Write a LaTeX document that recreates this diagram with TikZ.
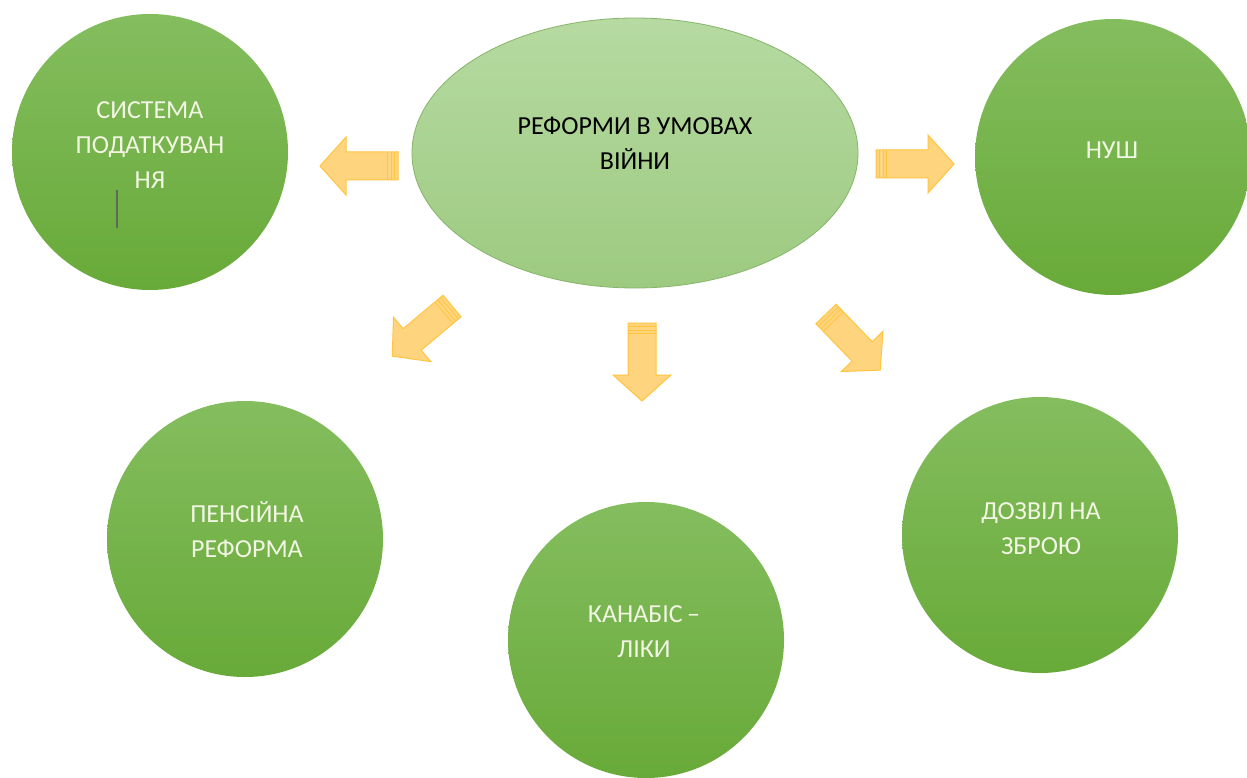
\documentclass[tikz,border=0pt]{standalone}
\usepackage{fontspec}
\setmainfont{Carlito}
\usetikzlibrary{shapes.geometric}
\definecolor{gtop}{HTML}{84BD5E}
\definecolor{gbot}{HTML}{68AA39}
\definecolor{etop}{HTML}{B6DAA2}
\definecolor{ebot}{HTML}{9DCA80}
\definecolor{eline}{HTML}{86B56A}
\definecolor{afill}{HTML}{FFD47E}
\definecolor{aline}{HTML}{FFC53F}
\definecolor{ctext}{HTML}{F2F5E4}
\definecolor{cursor}{HTML}{5E6A58}
\tikzset{
  gcirc/.style={circle, minimum size=276pt, inner sep=0pt, top color=gtop, bottom color=gbot, draw=none},
  ctxt/.style={align=center, text=ctext, font=\fontsize{26}{35}\selectfont},
  etxt/.style={align=center, text=black, font=\fontsize{26}{35}\selectfont},
  arrowbody/.style={fill=afill, draw=aline, line width=1pt, line join=miter},
  stripe/.style={draw=aline, line width=0.8pt},
  barrow/.pic={
    \path[arrowbody] (0,-14) -- (52,-14) -- (52,-29) -- (78,0) -- (52,29) -- (52,14) -- (0,14) -- cycle;
    \draw[stripe] (3.5,-14) -- (3.5,14);
    \draw[stripe] (7,-14) -- (7,14);
    \draw[stripe] (10.5,-14) -- (10.5,14);
  }
}
\begin{document}
\begin{tikzpicture}[x=1pt,y=-1pt]
\useasboundingbox[fill=white] (0,0) rectangle (1247,778);
% circles
\node[gcirc] (sys) at (150,152) {};
\node[gcirc] (nush) at (1113,157) {};
\node[gcirc] (pens) at (245,539) {};
\node[gcirc] (kan) at (646,640) {};
\node[gcirc] (zbr) at (1040,535) {};
% central ellipse
\node[ellipse, minimum width=446pt, minimum height=270pt, inner sep=0pt, top color=etop, bottom color=ebot, draw=eline, line width=0.8pt] (ref) at (635,153) {};
% texts
\node[etxt] (reft) at (635,143) {РЕФОРМИ В УМОВАХ\\ВІЙНИ};
\node[ctxt] (syst) at (150,145) {СИСТЕМА\\ПОДАТКУВАН\\НЯ};
\node[ctxt] (nusht) at (1112,150) {НУШ};
\node[ctxt] (penst) at (247,530) {ПЕНСІЙНА\\РЕФОРМА};
\node[ctxt] (kant) at (644,632) {КАНАБІС\,–\\ЛІКИ};
\node[ctxt] (zbrt) at (1041,529) {ДОЗВІЛ НА\\ЗБРОЮ};
% text cursor mark
\coordinate (cur1) at (117,190);
\coordinate (cur2) at (117,228);
\draw[cursor, line width=1.2pt] (cur1) -- (cur2);
% block arrows
\pic[rotate=180] (a1) at (398,166) {barrow};
\pic (a2) at (876,164) {barrow};
\pic[rotate=-90] (a3) at (642,323) {barrow};
\pic[rotate=-140] (a4) at (452,306) {barrow};
\pic[rotate=-46] (a5) at (826,314) {barrow};
\end{tikzpicture}
\end{document}
